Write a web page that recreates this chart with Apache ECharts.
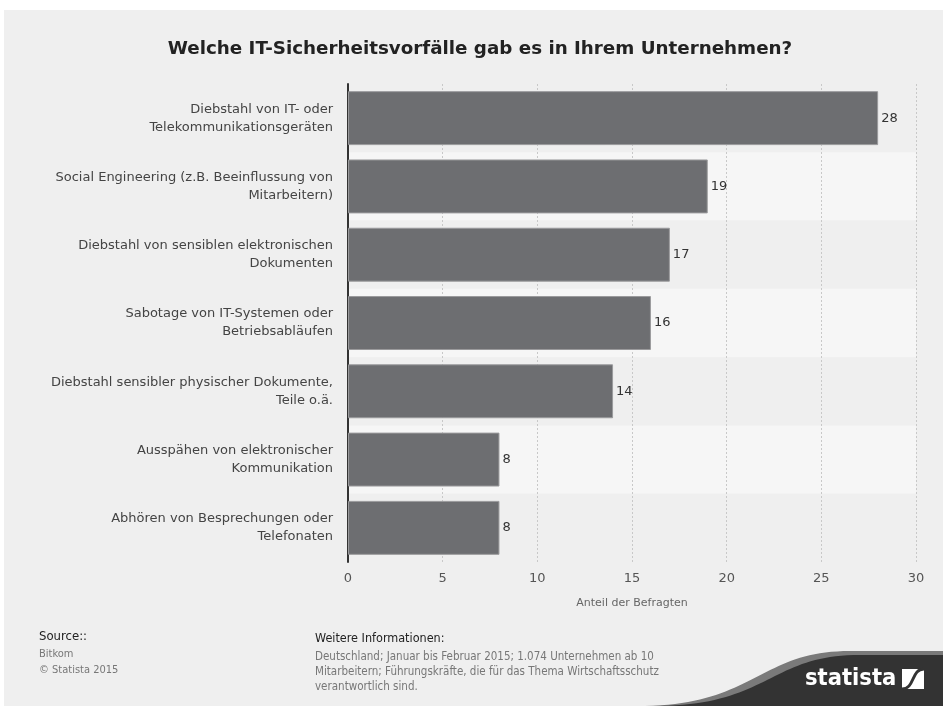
<!DOCTYPE html>
<html>
<head>
<meta charset="utf-8">
<script src="https://cdn.jsdelivr.net/npm/echarts@6/dist/echarts.min.js"></script>
<style>
html,body{margin:0;padding:0;background:#ffffff;}
#chart{width:943px;height:706px;}
</style>
</head>
<body>
<div id="chart"></div>
<script>
const titleText = 'Welche IT-Sicherheitsvorfälle gab es in Ihrem Unternehmen?';
const categories = [
  'Diebstahl von IT- oder\nTelekommunikationsgeräten',
  'Social Engineering (z.B. Beeinflussung von\nMitarbeitern)',
  'Diebstahl von sensiblen elektronischen\nDokumenten',
  'Sabotage von IT-Systemen oder\nBetriebsabläufen',
  'Diebstahl sensibler physischer Dokumente,\nTeile o.ä.',
  'Ausspähen von elektronischer\nKommunikation',
  'Abhören von Besprechungen oder\nTelefonaten'
];
const values = [28, 19, 17, 16, 14, 8, 8];
const axisName = 'Anteil der Befragten';
const sourceLines = ['Bitkom', '© Statista 2015'];
const infoLines = [
  'Deutschland; Januar bis Februar 2015; 1.074 Unternehmen ab 10',
  'Mitarbeitern; Führungskräfte, die für das Thema Wirtschaftsschutz',
  'verantwortlich sind.'
];

const FONT = 'DejaVu Sans';
const COND = 'DejaVu Sans Condensed';

// decorative swoosh outline (logo background)
function swoosh(x0, yTop, xFlat) {
  const pts = [];
  const p0 = [x0, 706], p1 = [x0 + 110, 704], p2 = [xFlat - 90, yTop], p3 = [xFlat, yTop];
  for (let i = 0; i <= 40; i++) {
    const t = i / 40, u = 1 - t;
    pts.push([
      u*u*u*p0[0] + 3*u*u*t*p1[0] + 3*u*t*t*p2[0] + t*t*t*p3[0],
      u*u*u*p0[1] + 3*u*u*t*p1[1] + 3*u*t*t*p2[1] + t*t*t*p3[1]
    ]);
  }
  pts.push([943, yTop], [943, 706]);
  return pts;
}

const chart = echarts.init(document.getElementById('chart'), null, {renderer: 'canvas'});

const option = {
  backgroundColor: '#ffffff',
  animation: false,
  title: {
    text: titleText,
    left: 475,
    top: 35,
    textAlign: 'center',
    textStyle: {fontFamily: FONT, fontWeight: 'bold', fontSize: 18.3, color: '#222222'}
  },
  grid: {left: 348, right: 27, top: 84, bottom: 144, containLabel: false},
  xAxis: {
    type: 'value', min: 0, max: 30, interval: 5,
    axisLine: {show: false},
    axisTick: {show: false},
    splitLine: {show: true, lineStyle: {color: '#c8c8c8', type: [2, 2], width: 1}},
    axisLabel: {fontFamily: FONT, fontSize: 13, color: '#555555', margin: 10},
    name: axisName, nameLocation: 'middle', nameGap: 36,
    nameTextStyle: {fontFamily: FONT, fontSize: 11, color: '#666666'}
  },
  yAxis: {
    type: 'category', data: categories, inverse: true,
    axisLine: {show: true, lineStyle: {color: '#333333', width: 2}},
    axisTick: {show: false},
    splitArea: {show: true, areaStyle: {color: ['#efefef', '#f6f6f6']}},
    axisLabel: {fontFamily: FONT, fontSize: 13, color: '#444444', margin: 15, lineHeight: 18, align: 'right'}
  },
  series: [{
    type: 'bar', data: values, barCategoryGap: '21%',
    itemStyle: {color: '#6d6e71', borderColor: '#9a9a9c', borderWidth: 1},
    label: {show: true, position: 'right', distance: 3, fontFamily: FONT, fontSize: 13, color: '#333333'}
  }],
  graphic: [
    {type: 'rect', z: -10, silent: true, shape: {x: 4, y: 10, width: 939, height: 696}, style: {fill: '#efefef'}},
    {type: 'text', x: 39, y: 630, style: {text: 'Source::', fontFamily: COND, fontSize: 13, fill: '#222222'}},
    {type: 'text', x: 39, y: 646, style: {text: sourceLines.join('\n'), lineHeight: 16, fontFamily: COND, fontSize: 11, fill: '#777777'}},
    {type: 'text', x: 315, y: 632, style: {text: 'Weitere Informationen:', fontFamily: COND, fontSize: 12.5, fill: '#222222'}},
    {type: 'text', x: 315, y: 650, style: {text: infoLines.join('\n'), lineHeight: 15, fontFamily: COND, fontSize: 11.5, fill: '#777777'}},
    {type: 'polygon', silent: true, shape: {points: swoosh(645, 651, 850)}, style: {fill: '#7a7a7a'}},
    {type: 'polygon', silent: true, shape: {points: swoosh(660, 655, 860)}, style: {fill: '#333333'}},
    {type: 'text', x: 805, y: 667, style: {text: 'statista', fontFamily: COND, fontWeight: 'bold', fontSize: 23.5, fill: '#ffffff'}},
    {type: 'rect', silent: true, shape: {x: 902, y: 669, width: 22, height: 20}, style: {fill: '#ffffff'}},
    {type: 'bezierCurve', silent: true, shape: {x1: 902, y1: 689, cpx1: 915, cpy1: 689, cpx2: 911, cpy2: 669, x2: 924, y2: 669}, style: {stroke: '#333333', lineWidth: 3, fill: null}}
  ]
};
chart.setOption(option);
</script>
</body>
</html>
